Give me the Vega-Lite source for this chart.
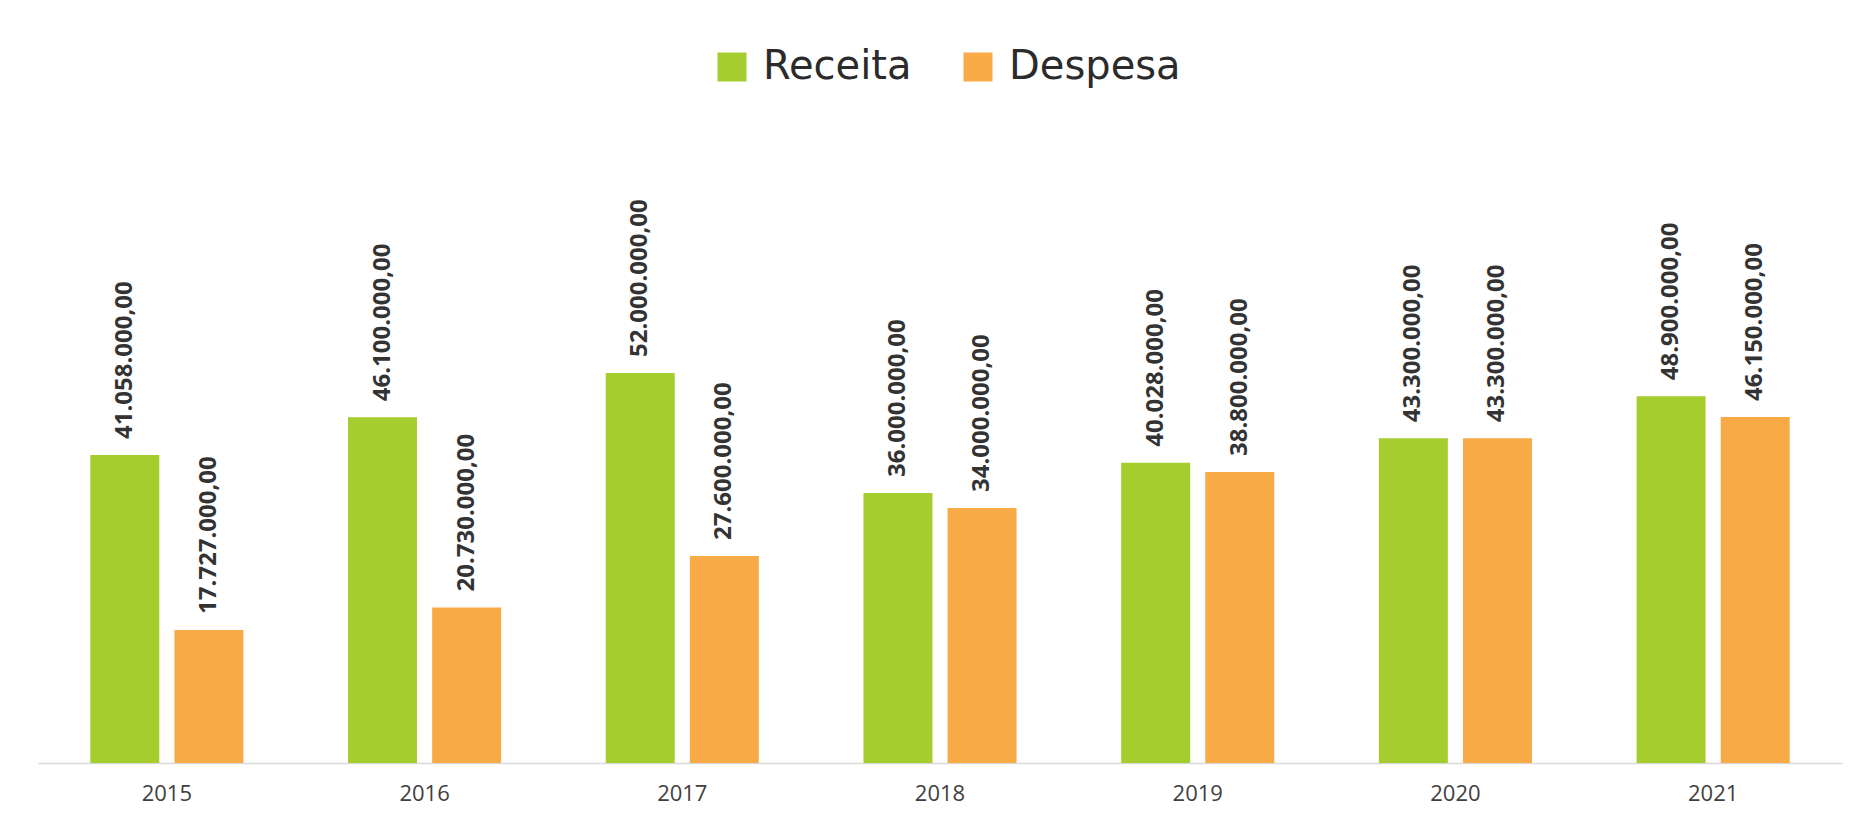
{
  "$schema": "https://vega.github.io/schema/vega-lite/v6.json",
  "width": 1804,
  "height": 660,
  "autosize": {"type": "none"},
  "padding": {"left": 38, "top": 103, "right": 15, "bottom": 60},
  "background": "#ffffff",
  "config": {
    "locale": {"number": {"decimal": ",", "thousands": ".", "grouping": [3], "currency": ["R$ ", ""]}},
    "view": {"stroke": null}
  },
  "data": {
    "values": [
      {"ano": "2015", "tipo": "Receita", "valor": 41058000},
      {"ano": "2015", "tipo": "Despesa", "valor": 17727000},
      {"ano": "2016", "tipo": "Receita", "valor": 46100000},
      {"ano": "2016", "tipo": "Despesa", "valor": 20730000},
      {"ano": "2017", "tipo": "Receita", "valor": 52000000},
      {"ano": "2017", "tipo": "Despesa", "valor": 27600000},
      {"ano": "2018", "tipo": "Receita", "valor": 36000000},
      {"ano": "2018", "tipo": "Despesa", "valor": 34000000},
      {"ano": "2019", "tipo": "Receita", "valor": 40028000},
      {"ano": "2019", "tipo": "Despesa", "valor": 38800000},
      {"ano": "2020", "tipo": "Receita", "valor": 43300000},
      {"ano": "2020", "tipo": "Despesa", "valor": 43300000},
      {"ano": "2021", "tipo": "Receita", "valor": 48900000},
      {"ano": "2021", "tipo": "Despesa", "valor": 46150000}
    ]
  },
  "encoding": {
    "x": {
      "field": "ano",
      "type": "nominal",
      "scale": {"paddingInner": 0.406, "paddingOuter": 0.203},
      "axis": {
        "title": null,
        "labelAngle": 0,
        "labelFont": "Open Sans",
        "labelFontSize": 22,
        "labelColor": "#404040",
        "labelPadding": 20,
        "ticks": false,
        "domainColor": "#D9D9D9",
        "domainWidth": 1.5
      }
    },
    "xOffset": {
      "field": "tipo",
      "type": "nominal",
      "sort": ["Receita", "Despesa"],
      "scale": {"paddingInner": 0.18, "paddingOuter": 0}
    },
    "y": {
      "field": "valor",
      "type": "quantitative",
      "scale": {"domain": [0, 88000000], "nice": false},
      "axis": null
    }
  },
  "layer": [
    {
      "mark": {"type": "bar"},
      "encoding": {
        "color": {
          "field": "tipo",
          "type": "nominal",
          "sort": ["Receita", "Despesa"],
          "scale": {"domain": ["Receita", "Despesa"], "range": ["#A5CD2E", "#F7AA45"]},
          "legend": {
            "orient": "none",
            "legendX": 674,
            "legendY": -56,
            "direction": "horizontal",
            "title": null,
            "symbolType": "square",
            "symbolSize": 841,
            "symbolStrokeWidth": 0,
            "symbolOpacity": 1,
            "labelFont": "DejaVu Sans",
            "labelFontSize": 40,
            "labelColor": "#2b2b2b",
            "labelOffset": 11,
            "columnPadding": 46,
            "labelLimit": 400
          }
        }
      }
    },
    {
      "mark": {
        "type": "text",
        "angle": 270,
        "align": "left",
        "baseline": "middle",
        "dx": 16,
        "font": "Open Sans",
        "fontWeight": "bold",
        "fontSize": 24,
        "color": "#333333"
      },
      "encoding": {
        "text": {"field": "valor", "type": "quantitative", "format": ",.2f"}
      }
    }
  ]
}
